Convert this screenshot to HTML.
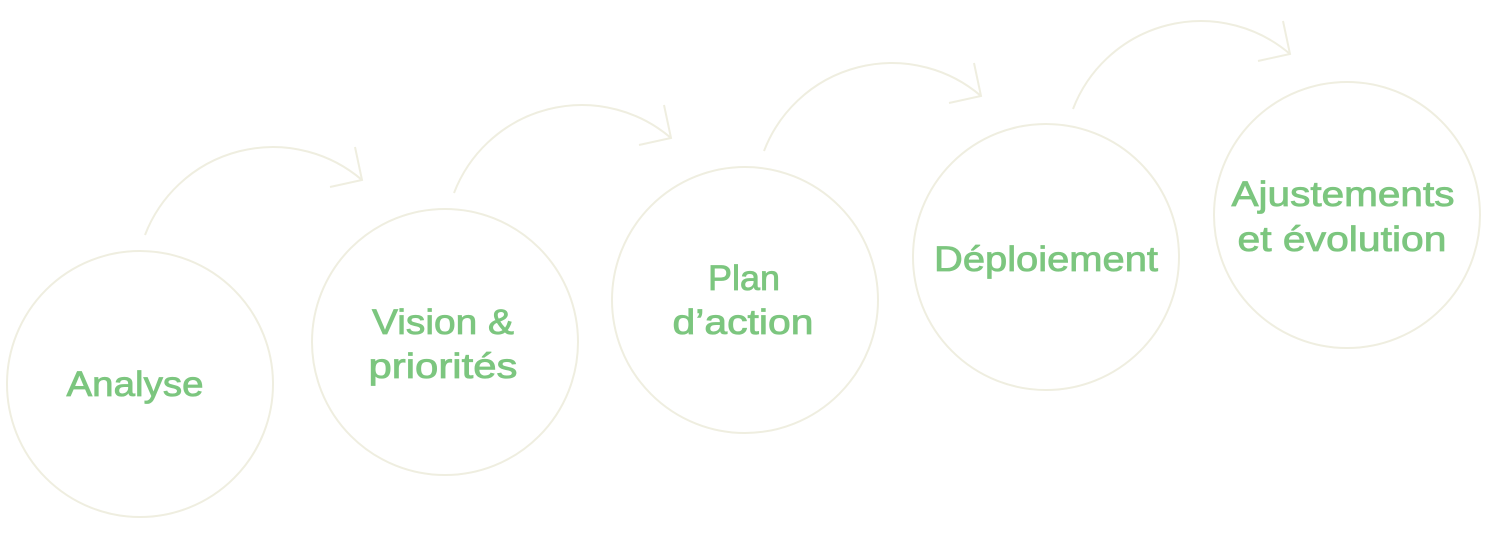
<!DOCTYPE html>
<html><head><meta charset="utf-8"><style>html,body{margin:0;padding:0;background:#fff}svg{display:block}</style></head>
<body>
<svg width="1492" height="539" viewBox="0 0 1492 539" xmlns="http://www.w3.org/2000/svg">
<g fill="none" stroke="#efeee0" stroke-width="2">
<circle cx="140" cy="384" r="133"/>
<circle cx="445" cy="342" r="133"/>
<circle cx="745" cy="300" r="133"/>
<circle cx="1046" cy="257" r="133"/>
<circle cx="1347" cy="215" r="133"/>
<g id="a">
<path d="M145 235 A137 137 0 0 1 362 180"/>
<path d="M355 147 L362 180 L330 187"/>
</g>
<use href="#a" transform="translate(309,-42)"/>
<use href="#a" transform="translate(619,-84)"/>
<use href="#a" transform="translate(928,-126)"/>
</g>
<g fill="#7cc67f" stroke="#7cc67f" stroke-width="0.8" font-family="Liberation Sans, sans-serif" font-size="35" text-anchor="middle">
<text x="135" y="396" textLength="137" lengthAdjust="spacingAndGlyphs">Analyse</text>
<text x="443" y="334" textLength="142" lengthAdjust="spacingAndGlyphs">Vision &amp;</text>
<text x="443" y="378" textLength="149" lengthAdjust="spacingAndGlyphs">priorités</text>
<text x="744" y="290" textLength="72" lengthAdjust="spacingAndGlyphs">Plan</text>
<text x="743" y="334" textLength="141" lengthAdjust="spacingAndGlyphs">d’action</text>
<text x="1046" y="271" textLength="224" lengthAdjust="spacingAndGlyphs">Déploiement</text>
<text x="1343" y="206" textLength="223" lengthAdjust="spacingAndGlyphs">Ajustements</text>
<text x="1342" y="251" textLength="209" lengthAdjust="spacingAndGlyphs">et évolution</text>
</g>
</svg>
</body></html>
